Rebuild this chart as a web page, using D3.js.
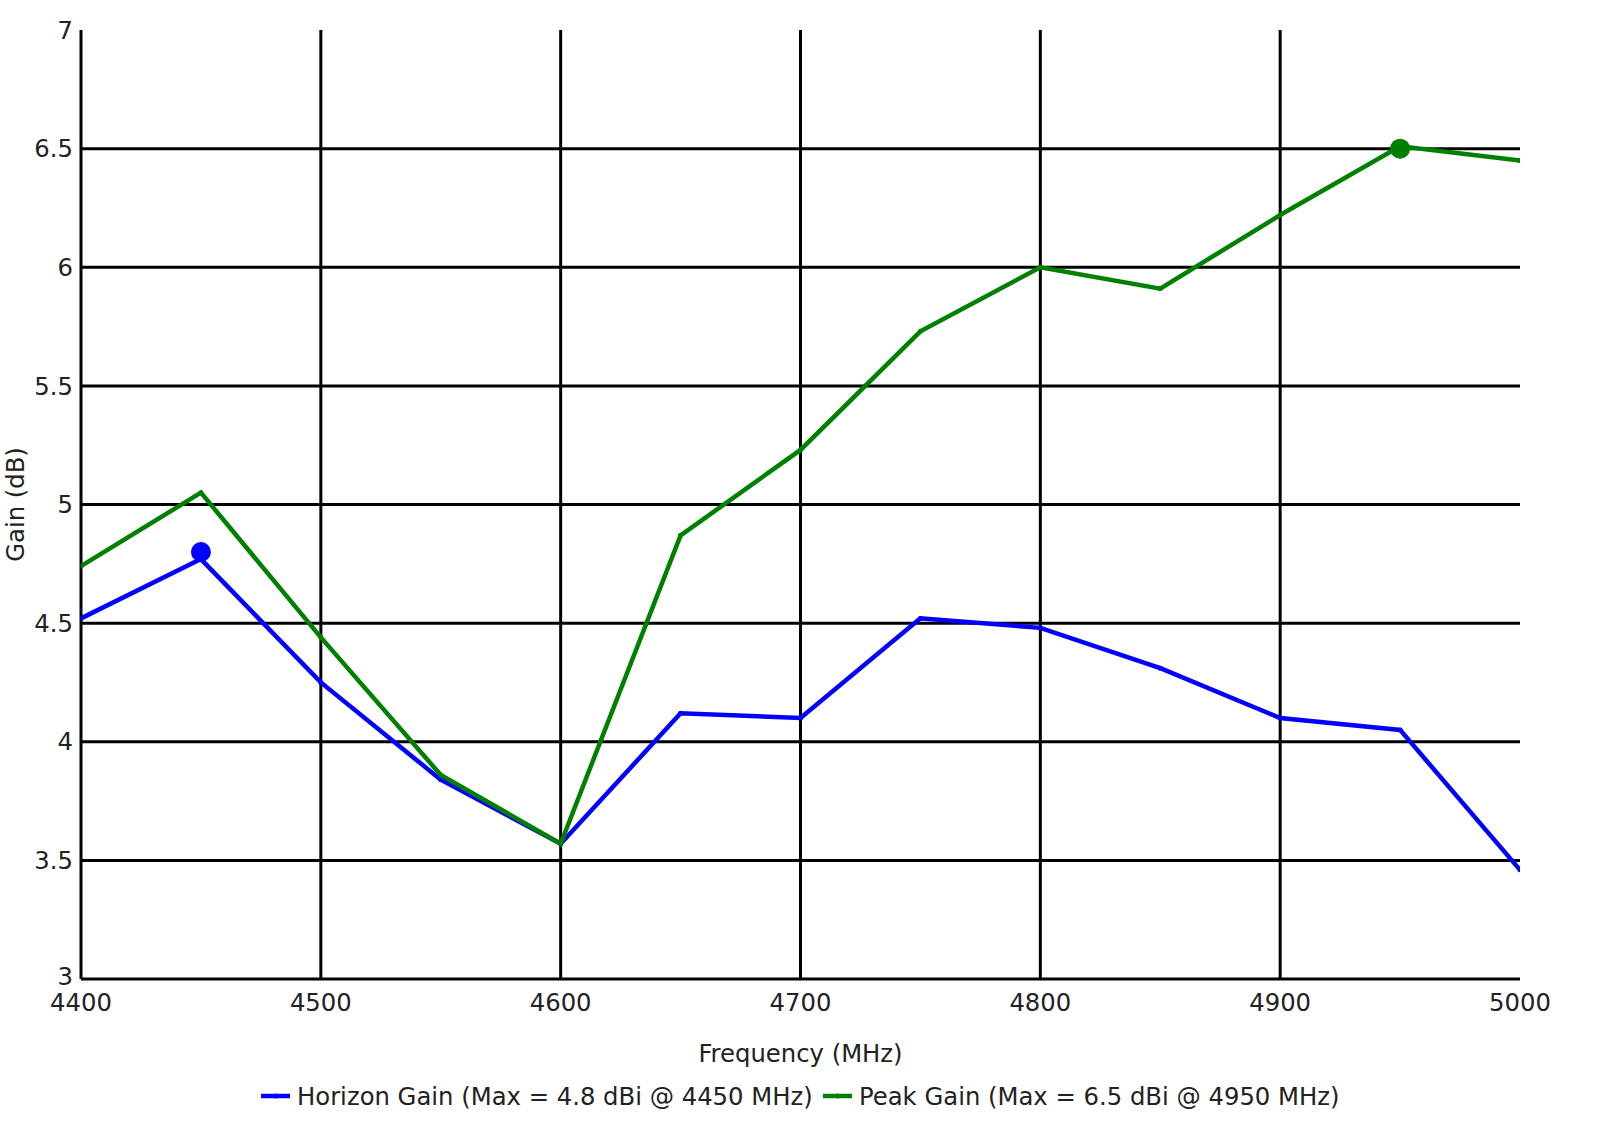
<!DOCTYPE html>
<html><head><meta charset="utf-8">
<script src="https://cdn.jsdelivr.net/npm/d3@7"></script>
<style>
html,body{margin:0;padding:0;background:#fff;}
svg{display:block;font-family:"DejaVu Sans",Verdana,sans-serif;}
</style></head>
<body>
<svg id="chart" width="1600" height="1130"></svg>
<script>
const frequencies = [4400,4450,4500,4550,4600,4650,4700,4750,4800,4850,4900,4950,5000];
const horizonGain = [4.52,4.77,4.25,3.84,3.57,4.12,4.10,4.52,4.48,4.31,4.10,4.05,3.46];
const peakGain    = [4.74,5.05,4.44,3.86,3.57,4.87,5.23,5.73,6.00,5.91,6.22,6.51,6.45];
const maxMarkers = [
  {freq:4450, value:4.8, color:"#0000ff"},
  {freq:4950, value:6.5, color:"#008000"}
];
const xTicks = [4400,4500,4600,4700,4800,4900,5000];
const yTicks = [3,3.5,4,4.5,5,5.5,6,6.5,7];
const seriesNames = ["Horizon Gain (Max = 4.8 dBi @ 4450 MHz)","Peak Gain (Max = 6.5 dBi @ 4950 MHz)"];
const seriesColors = ["#0000ff","#008000"];

const svg = d3.select("#chart");
const L=81, R=1520, T=30, B=979;
const x = d3.scaleLinear().domain([4400,5000]).range([L,R]);
const y = d3.scaleLinear().domain([3,7]).range([B,T]);
const fs = 24.3;

// grid
const g = svg.append("g");
g.selectAll(".vg").data(xTicks.filter(d=>d<5000)).join("line")
  .attr("x1",d=>x(d)).attr("x2",d=>x(d)).attr("y1",T).attr("y2",B)
  .attr("stroke","#000").attr("stroke-width",3);
g.selectAll(".hg").data(yTicks.filter(d=>d<7)).join("line")
  .attr("x1",L).attr("x2",R).attr("y1",d=>y(d)).attr("y2",d=>y(d))
  .attr("stroke","#000").attr("stroke-width",3);

// tick labels
svg.append("g").selectAll("text").data(yTicks).join("text")
  .attr("x",L-8).attr("y",d=>y(d)).attr("dy",d=>d===3?"0.24em":"0.36em")
  .attr("text-anchor","end").attr("font-size",fs).attr("fill","#222")
  .text(d=>d3.format("~g")(d));
svg.append("g").selectAll("text").data(xTicks).join("text")
  .attr("x",d=>x(d)).attr("y",B+32)
  .attr("text-anchor","middle").attr("font-size",fs).attr("fill","#222")
  .text(d=>d);

// axis titles
svg.append("text").attr("x",x(4700)).attr("y",1062).attr("text-anchor","middle")
  .attr("font-size",fs).attr("fill","#222").text("Frequency (MHz)");
svg.append("text").attr("transform",`translate(24,${(T+B)/2}) rotate(-90)`)
  .attr("text-anchor","middle").attr("font-size",fs).attr("fill","#222").text("Gain (dB)");

// lines
svg.append("defs").append("clipPath").attr("id","clip").append("rect")
  .attr("x",L).attr("y",T-20).attr("width",R-L).attr("height",B-T+20);
const line = d3.line().x(d=>x(d[0])).y(d=>y(d[1]));
const plot = svg.append("g").attr("clip-path","url(#clip)");
[horizonGain, peakGain].forEach((vals,i)=>{
  const pts = frequencies.map((f,j)=>[f,vals[j]]);
  plot.append("path").datum(pts).attr("d",line).attr("fill","none")
    .attr("stroke",seriesColors[i]).attr("stroke-width",4.5).attr("stroke-linejoin","miter");
  plot.selectAll(null).data(pts).join("circle")
    .attr("cx",d=>x(d[0])).attr("cy",d=>y(d[1])).attr("r",2.5).attr("fill",seriesColors[i]);
});
svg.selectAll(".mx").data(maxMarkers).join("circle")
  .attr("cx",d=>x(d.freq)).attr("cy",d=>y(d.value)).attr("r",10).attr("fill",d=>d.color);

// legend
const legX = [261, 823];
seriesNames.forEach((n,i)=>{
  const lg = svg.append("g").attr("transform",`translate(${legX[i]},1096)`);
  lg.append("line").attr("x1",0).attr("x2",29).attr("y1",0).attr("y2",0)
    .attr("stroke",seriesColors[i]).attr("stroke-width",4.5);
  lg.append("circle").attr("cx",14.5).attr("cy",0).attr("r",2.5).attr("fill",seriesColors[i]);
  lg.append("text").attr("x",36).attr("y",0).attr("dy","0.36em").attr("font-size",fs)
    .attr("fill","#222").text(n);
});
</script>
</body></html>
